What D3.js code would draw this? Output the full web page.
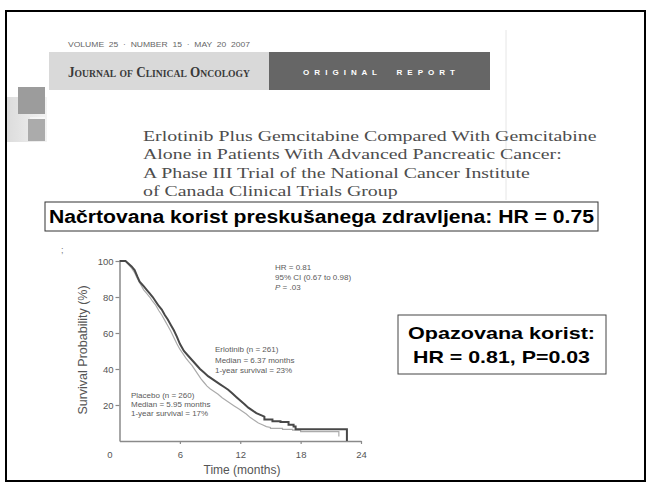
<!DOCTYPE html>
<html>
<head>
<meta charset="utf-8">
<script src="https://cdn.jsdelivr.net/npm/d3@7"></script>
<style>
  html, body { margin: 0; padding: 0; background: #fff; overflow: hidden; }
  svg { display: block; }
</style>
</head>
<body>
<div id="chart"></div>
<script>
// Kaplan-Meier curves (months, survival %)
const erlotinibTime = [0, 0.6, 0.9, 1.2, 1.5, 1.8, 2.0, 2.4, 2.7, 3.0, 3.3, 3.6, 3.9, 4.2, 4.5, 4.8, 5.1, 5.4, 5.7, 6.0, 6.4, 6.8, 7.2, 7.6, 8.0, 8.4, 8.8, 9.2, 9.6, 10.0, 10.4, 10.8, 11.2, 11.6, 12.0, 12.4, 12.8, 13.2, 13.6, 14.0, 14.4, 14.4, 15.2, 15.2, 16.0, 16.0, 16.8, 16.8, 17.3, 17.3, 17.5, 17.5, 22.6, 22.6];
const erlotinibSurv = [100, 100, 98.5, 97, 95, 91, 88.5, 86, 84, 82, 80, 77.5, 75, 73, 70, 67.5, 64.5, 61.5, 58, 54, 50, 47.5, 45, 42.5, 40, 38, 36, 34.5, 33, 31.5, 30, 28.5, 26.5, 24.5, 22.5, 20.5, 18.5, 17, 15.5, 14.5, 13.5, 12, 12, 11, 11, 10.5, 10.5, 9, 9, 8, 8, 6.5, 6.5, 0];
const placeboTime = [0, 0.6, 0.9, 1.2, 1.5, 1.8, 2.1, 2.4, 2.7, 3.0, 3.3, 3.6, 3.9, 4.2, 4.5, 4.8, 5.1, 5.4, 5.7, 6.0, 6.3, 6.6, 6.9, 7.2, 7.5, 7.8, 8.1, 8.4, 8.7, 9.0, 9.4, 9.8, 10.2, 10.6, 11.0, 11.4, 11.8, 12.2, 12.6, 13.0, 13.4, 13.8, 14.2, 14.6, 15.0, 15.0, 16.2, 16.2, 17.2, 17.2, 18.0, 18.0, 21.8, 21.8];
const placeboSurv = [100, 100, 98, 96, 93.5, 90, 87, 84, 82, 80, 77.5, 75.5, 72.5, 70, 67, 64, 61, 57.5, 54, 51, 48.5, 46, 44, 42, 39.5, 37, 34.5, 32.5, 30.5, 29, 27.5, 26, 24, 22.5, 21, 19.5, 18, 16.5, 15, 13, 11.5, 10, 9, 8, 7.5, 7, 7, 6.5, 6.5, 6, 6, 5.2, 5.2, 2.5];

const xTicks = [0, 6, 12, 18, 24];
const yTicks = [20, 40, 60, 80, 100];

const titleLines = [
  "Erlotinib Plus Gemcitabine Compared With Gemcitabine",
  "Alone in Patients With Advanced Pancreatic Cancer:",
  "A Phase III Trial of the National Cancer Institute",
  "of Canada Clinical Trials Group"
];
const hrLines = ["HR = 0.81", "95% CI (0.67 to 0.98)", "P = .03"];
const erlotinibLines = ["Erlotinib (n = 261)", "Median = 6.37 months", "1-year survival = 23%"];
const placeboLines = ["Placebo (n = 260)", "Median = 5.95 months", "1-year survival = 17%"];

const W = 652, H = 488;
const sans = "'Liberation Sans', Arial, sans-serif";
const serif = "'Liberation Serif', 'Times New Roman', serif";

const svg = d3.select("#chart").append("svg")
  .attr("width", W)
  .attr("height", H);

// slide frame
svg.append("rect")
  .attr("x", 6).attr("y", 11)
  .attr("width", 639).attr("height", 470)
  .attr("fill", "#fff")
  .attr("stroke", "#000")
  .attr("stroke-width", 2);

// decorative squares on the left
const grad = svg.append("defs").append("linearGradient")
  .attr("id", "lightgrad").attr("x1", 0).attr("x2", 1).attr("y1", 0).attr("y2", 0);
grad.append("stop").attr("offset", 0).attr("stop-color", "#dcdcdc");
grad.append("stop").attr("offset", 1).attr("stop-color", "#f3f3f3");

svg.append("rect").attr("x", 7).attr("y", 97).attr("width", 40).attr("height", 45).attr("fill", "url(#lightgrad)");
svg.append("rect").attr("x", 18).attr("y", 87).attr("width", 27).attr("height", 27).attr("fill", "#9c9c9c");
svg.append("rect").attr("x", 28).attr("y", 119).attr("width", 17).attr("height", 22).attr("fill", "#ababab");
svg.append("line").attr("x1", 30).attr("x2", 45).attr("y1", 118).attr("y2", 118).attr("stroke", "#fff").attr("stroke-width", 1);

// faint page edge of the scanned article
svg.append("line").attr("x1", 506).attr("x2", 506).attr("y1", 30).attr("y2", 200)
  .attr("stroke", "#e6e6e6").attr("stroke-width", 1);

// journal header
svg.append("text")
  .attr("x", 68).attr("y", 47)
  .attr("font-family", sans).attr("font-size", 6.5)
  .attr("fill", "#666")
  .style("white-space", "pre")
  .attr("textLength", 182).attr("lengthAdjust", "spacingAndGlyphs")
  .text("VOLUME  25  ·  NUMBER  15  ·  MAY  20  2007");

svg.append("rect").attr("x", 49).attr("y", 52).attr("width", 220).attr("height", 38).attr("fill", "#d9d9d9");
svg.append("rect").attr("x", 269).attr("y", 52).attr("width", 221).attr("height", 38).attr("fill", "#666");

svg.append("text")
  .attr("x", 68).attr("y", 77)
  .attr("font-family", serif).attr("font-size", 15)
  .attr("font-weight", "bold")
  .style("font-variant", "small-caps")
  .attr("fill", "#3a3a3a")
  .attr("textLength", 182).attr("lengthAdjust", "spacingAndGlyphs")
  .text("Journal of Clinical Oncology");

svg.append("text")
  .attr("x", 303).attr("y", 75)
  .attr("font-family", sans).attr("font-size", 8)
  .attr("font-weight", "bold")
  .attr("fill", "#fff")
  .style("white-space", "pre")
  .attr("textLength", 152).attr("lengthAdjust", "spacing")
  .text("O R I G I N A L     R E P O R T");

// article title, scaled horizontally to the width of the first line
const titleG = svg.append("g");
titleG.selectAll("text")
  .data(titleLines)
  .join("text")
  .attr("x", 0)
  .attr("y", (d, i) => 141 + i * 18.4)
  .attr("font-family", serif).attr("font-size", 15.5)
  .attr("fill", "#4d4d4d")
  .text(d => d);
const firstW = titleG.select("text").node().getComputedTextLength();
titleG.attr("transform", `translate(143,0) scale(${454 / firstW},1)`);

// planned benefit box
svg.append("rect")
  .attr("x", 45).attr("y", 202).attr("width", 553).attr("height", 29)
  .attr("fill", "#fff").attr("stroke", "#333").attr("stroke-width", 1);
svg.append("text")
  .attr("x", 49).attr("y", 223)
  .attr("font-family", sans).attr("font-size", 18).attr("font-weight", "bold")
  .attr("fill", "#000")
  .attr("textLength", 545).attr("lengthAdjust", "spacingAndGlyphs")
  .text("Načrtovana korist preskušanega zdravljena: HR = 0.75");

svg.append("text")
  .attr("x", 61).attr("y", 253)
  .attr("font-family", sans).attr("font-size", 9)
  .attr("fill", "#777")
  .text(";");

// observed benefit box
svg.append("rect")
  .attr("x", 398).attr("y", 315).attr("width", 208).attr("height", 59)
  .attr("fill", "#fff").attr("stroke", "#444").attr("stroke-width", 1);
svg.append("text")
  .attr("x", 408).attr("y", 339)
  .attr("font-family", sans).attr("font-size", 17).attr("font-weight", "bold")
  .attr("textLength", 187).attr("lengthAdjust", "spacingAndGlyphs")
  .text("Opazovana korist:");
svg.append("text")
  .attr("x", 413).attr("y", 363)
  .attr("font-family", sans).attr("font-size", 17).attr("font-weight", "bold")
  .attr("textLength", 177).attr("lengthAdjust", "spacingAndGlyphs")
  .text("HR = 0.81, P=0.03");

// ---- survival chart ----
const x = d3.scaleLinear().domain([0, 24]).range([119.5, 361]);
const y = d3.scaleLinear().domain([0, 100]).range([441, 261]);

const axisColor = "#8a8a8a";
const labelColor = "#555";

const yAxis = svg.append("g")
  .attr("transform", `translate(${x(0)},0)`)
  .call(d3.axisLeft(y).tickValues(yTicks).tickSize(4).tickSizeOuter(0).tickPadding(2));

const xAxis = svg.append("g")
  .attr("transform", `translate(0,${y(0)})`)
  .call(d3.axisBottom(x).tickValues(xTicks).tickSize(3).tickSizeOuter(0).tickPadding(7));

[xAxis, yAxis].forEach(g => {
  g.select(".domain").attr("stroke", axisColor).attr("stroke-width", 1.5);
  g.selectAll(".tick line").attr("stroke", axisColor).attr("stroke-width", 1.2);
  g.selectAll(".tick text")
    .attr("fill", labelColor)
    .attr("font-family", sans)
    .attr("font-size", 9.5);
});
xAxis.selectAll(".tick").filter(d => d === 0).select("line").remove();
xAxis.selectAll(".tick").filter(d => d === 0).select("text").attr("x", -10);

svg.append("text")
  .attr("transform", `translate(87,${(y(0) + y(100)) / 2 - 1}) rotate(-90)`)
  .attr("text-anchor", "middle")
  .attr("font-family", sans).attr("font-size", 12.5)
  .attr("fill", labelColor)
  .text("Survival Probability (%)");

svg.append("text")
  .attr("x", 242).attr("y", 474)
  .attr("text-anchor", "middle")
  .attr("font-family", sans).attr("font-size", 12)
  .attr("fill", labelColor)
  .text("Time (months)");

const line = d3.line()
  .x(d => x(d[0]))
  .y(d => y(d[1]));

const placeboData = placeboTime.map((t, i) => [t, placeboSurv[i]]);
const erlotinibData = erlotinibTime.map((t, i) => [t, erlotinibSurv[i]]);

svg.append("path")
  .datum(placeboData)
  .attr("fill", "none")
  .attr("stroke", "#ababab")
  .attr("stroke-width", 1.2)
  .attr("d", line);

svg.append("path")
  .datum(erlotinibData)
  .attr("fill", "none")
  .attr("stroke", "#484848")
  .attr("stroke-width", 2)
  .attr("d", line);

// annotations
function annot(lines, x0, y0, step) {
  const t = svg.append("text")
    .attr("font-family", sans).attr("font-size", 8)
    .attr("fill", "#5a5a5a");
  lines.forEach((s, i) => {
    const ts = t.append("tspan").attr("x", x0).attr("y", y0 + i * step);
    if (s.startsWith("P = ")) {
      ts.append("tspan").attr("font-style", "italic").text("P");
      ts.append("tspan").text(s.slice(1));
    } else {
      ts.text(s);
    }
  });
}
annot(hrLines, 275, 270, 10);
annot(erlotinibLines, 215, 352, 10.5);
annot(placeboLines, 131, 398, 9);
</script>
</body>
</html>
